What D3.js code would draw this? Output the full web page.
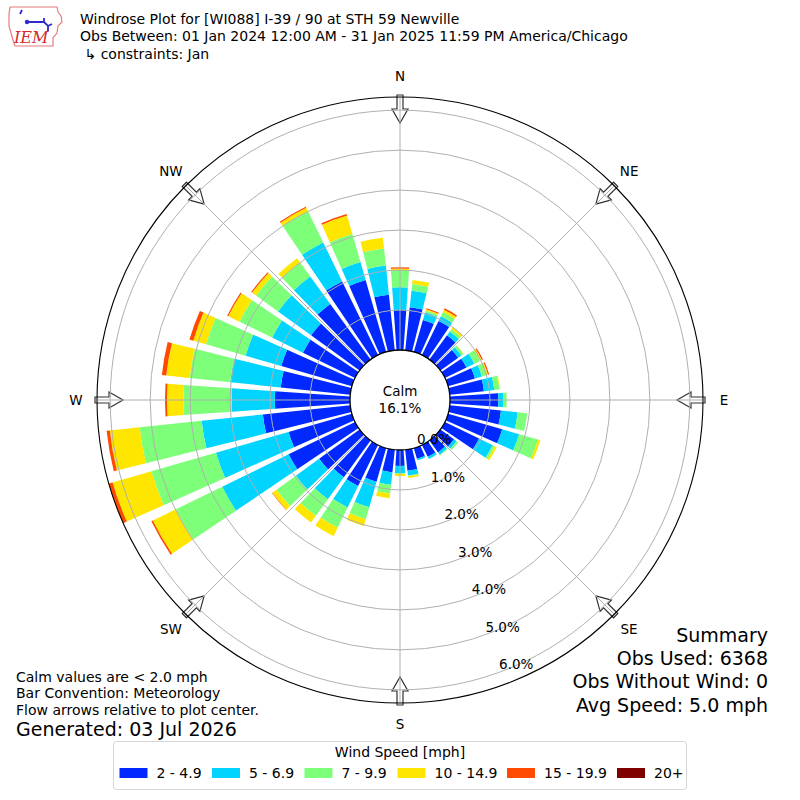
<!DOCTYPE html>
<html>
<head>
<meta charset="utf-8">
<script src="https://cdn.jsdelivr.net/npm/d3@7"></script>
<style>
body { margin: 0; background: #fff; }
svg text { font-family: "DejaVu Sans", sans-serif; fill: #000; white-space: pre; }
</style>
</head>
<body>
<svg width="800" height="800"></svg>
<script>
// direction bins (degrees, meteorological) and speed classes
const directions = d3.range(0, 360, 10);
const speedBins = ["2 - 4.9", "5 - 6.9", "7 - 9.9", "10 - 14.9", "15 - 19.9", "20+"];
const binColors = ["#0028ff", "#00d4ff", "#7dff7a", "#ffe600", "#ff4a00", "#800000"];

// percent of obs, one value per direction (0,10,...,350)
const pct2to5   = [1.00,1.08,0.83,0.95,0.75,0.55,0.60,0.70,0.86,1.21,1.29,1.41,0.95,0.42,0.37,0.33,0.28,0.53,
                   0.40,0.57,0.88,1.14,1.14,1.25,1.85,1.65,2.20,1.88,1.75,1.84,1.45,1.50,1.72,2.05,1.87,1.40];
const pct5to7   = [0.57,0.42,0.20,0.13,0.12,0.10,0.22,0.18,0.26,0.12,0.42,0.44,0.38,0.08,0.07,0.06,0.04,0.12,
                   0.18,0.31,0.66,0.60,0.68,0.72,1.85,1.89,1.54,1.08,1.27,0.93,0.86,1.02,0.85,1.08,0.47,0.73];
const pct7to10  = [0.43,0.17,0.05,0.12,0.07,0.06,0.16,0.13,0.13,0.09,0.24,0.49,0.06,0.05,0.02,0.00,0.00,0.02,
                   0.02,0.22,0.31,0.56,0.51,0.60,1.29,1.68,1.56,1.21,1.02,1.03,0.91,0.68,0.43,0.87,0.73,0.43];
const pct10to15 = [0.04,0.10,0.03,0.06,0.06,0.01,0.05,0.03,0.02,0.00,0.00,0.06,0.05,0.00,0.00,0.00,0.00,0.04,
                   0.05,0.12,0.18,0.24,0.21,0.13,0.64,1.01,0.75,0.41,0.59,0.33,0.31,0.12,0.13,0.10,0.48,0.27];
const pct15to20 = [0.03,0.00,0.03,0.04,0.00,0.00,0.03,0.03,0.00,0.00,0.00,0.00,0.00,0.00,0.00,0.00,0.00,0.00,
                   0.00,0.00,0.00,0.00,0.00,0.01,0.04,0.10,0.08,0.05,0.11,0.10,0.03,0.03,0.00,0.03,0.04,0.00];
const pct20up   = [0,0,0,0,0,0,0,0,0,0,0,0,0,0,0,0,0,0,
                   0,0,0,0,0,0,0,0,0,0,0,0,0,0,0,0,0,0];

const rTicks = [0, 1, 2, 3, 4, 5, 6];
const compassLabels = ["N", "NE", "E", "SE", "S", "SW", "W", "NW"];
const calmPct = 16.1;

const titleLines = [
  "Windrose Plot for [WI088] I-39 / 90 at STH 59 Newville",
  "Obs Between: 01 Jan 2024 12:00 AM - 31 Jan 2025 11:59 PM America/Chicago",
  " \u21b3 constraints: Jan"
];
const noteLines = ["Calm values are < 2.0 mph", "Bar Convention: Meteorology", "Flow arrows relative to plot center."];
const generated = "Generated: 03 Jul 2026";
const summaryLines = ["Summary", "Obs Used: 6368", "Obs Without Wind: 0", "Avg Speed: 5.0 mph"];

const series = [pct2to5, pct5to7, pct7to10, pct10to15, pct15to20, pct20up];

const svg = d3.select("svg");
svg.append("rect").attr("width", 800).attr("height", 800).attr("fill", "#fff");

const cx = 400, cy = 400;
const calmR = 50, outerR = 303;

// stack per direction
const totals = directions.map((d, i) => d3.sum(series, s => s[i]));
const rmax = d3.max(totals);
const r = d3.scaleLinear().domain([0, rmax]).range([calmR, outerR]);

const rad = Math.PI / 180;
const halfWidth = 4; // degrees

const g = svg.append("g").attr("transform", "translate(" + cx + "," + cy + ")");

// bars
const arc = d3.arc();
const segs = [];
directions.forEach((d, i) => {
  let acc = 0;
  series.forEach((s, k) => {
    if (s[i] > 0) {
      segs.push({dir: d, y0: acc, y1: acc + s[i], k: k});
    }
    acc += s[i];
  });
});

g.selectAll("path.bar")
  .data(segs)
  .join("path")
  .attr("class", "bar")
  .attr("fill", d => binColors[d.k])
  .attr("d", d => arc({
    innerRadius: r(d.y0),
    outerRadius: r(d.y1),
    startAngle: (d.dir - halfWidth) * rad,
    endAngle: (d.dir + halfWidth) * rad
  }));

// flow arrows on the rim
const pt = (bearing, rr, p) => {
  const a = bearing * rad;
  return [rr * Math.sin(a) + p * Math.cos(a), -rr * Math.cos(a) + p * Math.sin(a)];
};
const arrowShape = [[305, -3], [291, -3], [291, -8], [277, 0], [291, 8], [291, 3], [305, 3]];
compassLabels.forEach((lab, i) => {
  const b = i * 45;
  g.append("path")
    .attr("d", "M" + arrowShape.map(q => pt(b, q[0], q[1]).join(",")).join("L") + "Z")
    .attr("fill", "#fff")
    .attr("stroke", "#333")
    .attr("stroke-width", 1.2);
});

// grid
g.selectAll("circle.grid")
  .data(rTicks.slice(1))
  .join("circle")
  .attr("class", "grid")
  .attr("r", d => r(d))
  .attr("fill", "none")
  .attr("stroke", "#b0b0b0")
  .attr("stroke-width", 1);

compassLabels.forEach((lab, i) => {
  const b = i * 45;
  const p0 = pt(b, calmR, 0), p1 = pt(b, outerR, 0);
  g.append("line")
    .attr("x1", p0[0]).attr("y1", p0[1])
    .attr("x2", p1[0]).attr("y2", p1[1])
    .attr("stroke", "#b0b0b0")
    .attr("stroke-width", 1);
});

g.append("circle").attr("r", outerR).attr("fill", "none").attr("stroke", "#000").attr("stroke-width", 1.1);
g.append("circle").attr("r", calmR).attr("fill", "#fff").attr("stroke", "#000").attr("stroke-width", 1.3);

g.append("text").attr("x", 0).attr("y", -9).attr("dy", "0.35em")
  .attr("text-anchor", "middle").style("font-size", "13.5px").text("Calm");
g.append("text").attr("x", 0).attr("y", 8).attr("dy", "0.35em")
  .attr("text-anchor", "middle").style("font-size", "13.5px").text(calmPct.toFixed(1) + "%");

// compass labels
compassLabels.forEach((lab, i) => {
  const p = pt(i * 45, 324, 0);
  g.append("text")
    .attr("x", p[0]).attr("y", p[1]).attr("dy", "0.35em")
    .attr("text-anchor", "middle")
    .style("font-size", "13.5px")
    .text(lab);
});

// radial tick labels
rTicks.forEach(t => {
  const p = pt(160, r(t), 0);
  g.append("text")
    .attr("x", p[0]).attr("y", p[1] - 3)
    .style("font-size", "13.5px")
    .text(t.toFixed(1) + "%");
});

// header
const logo = svg.append("g");
logo.append("path")
  .attr("d", "M10,7 L57,7 L58,12 L61,16 L62,22 L58,26 L57,33 L53,38 L53,46 L15,46 L13,40 L11,33 L9,26 L9,14 Z")
  .attr("fill", "#fff").attr("stroke", "#e87a7a").attr("stroke-width", 1.2);
logo.append("path")
  .attr("d", "M22,10 L20,14 M27,22 L44,22 M44,22 L44,18 M44,22 L48,26 L52,24 M48,26 L48,31")
  .attr("fill", "none").attr("stroke", "#2a2ad0").attr("stroke-width", 1.8);
logo.append("circle").attr("cx", 27).attr("cy", 22).attr("r", 2.2).attr("fill", "#2a2ad0");
logo.append("text").attr("x", 14).attr("y", 43)
  .style("font-family", "'DejaVu Serif', serif").style("font-style", "italic")
  .style("font-size", "16px").style("fill", "#d42a2a").text("IEM");

titleLines.forEach((t, i) => {
  svg.append("text")
    .attr("x", 80).attr("y", 19 + i * 17.5).attr("dy", "0.35em")
    .style("font-size", "14px")
    .text(t);
});

// notes lower left
noteLines.forEach((t, i) => {
  svg.append("text")
    .attr("x", 16).attr("y", 677 + i * 16.5).attr("dy", "0.35em")
    .style("font-size", "14px")
    .text(t);
});
svg.append("text").attr("x", 16).attr("y", 729).attr("dy", "0.35em")
  .style("font-size", "19px").text(generated);

// summary lower right
summaryLines.forEach((t, i) => {
  svg.append("text")
    .attr("x", 768).attr("y", 635 + i * 23.3).attr("dy", "0.35em")
    .attr("text-anchor", "end")
    .style("font-size", "19px")
    .text(t);
});

// legend
const leg = svg.append("g");
leg.append("rect")
  .attr("x", 113.5).attr("y", 741.5).attr("width", 573).attr("height", 48).attr("rx", 3)
  .attr("fill", "#fff").attr("stroke", "#d6d6d6");
leg.append("text").attr("x", 400).attr("y", 752).attr("dy", "0.35em")
  .attr("text-anchor", "middle").style("font-size", "14px").text("Wind Speed [mph]");
const legX = [119.5, 212, 304.5, 397.5, 507, 617];
speedBins.forEach((b, i) => {
  leg.append("rect").attr("x", legX[i]).attr("y", 768).attr("width", 28).attr("height", 10)
    .attr("fill", binColors[i]);
  leg.append("text").attr("x", legX[i] + 37).attr("y", 773).attr("dy", "0.35em")
    .style("font-size", "14px").text(b);
});
</script>
</body>
</html>
